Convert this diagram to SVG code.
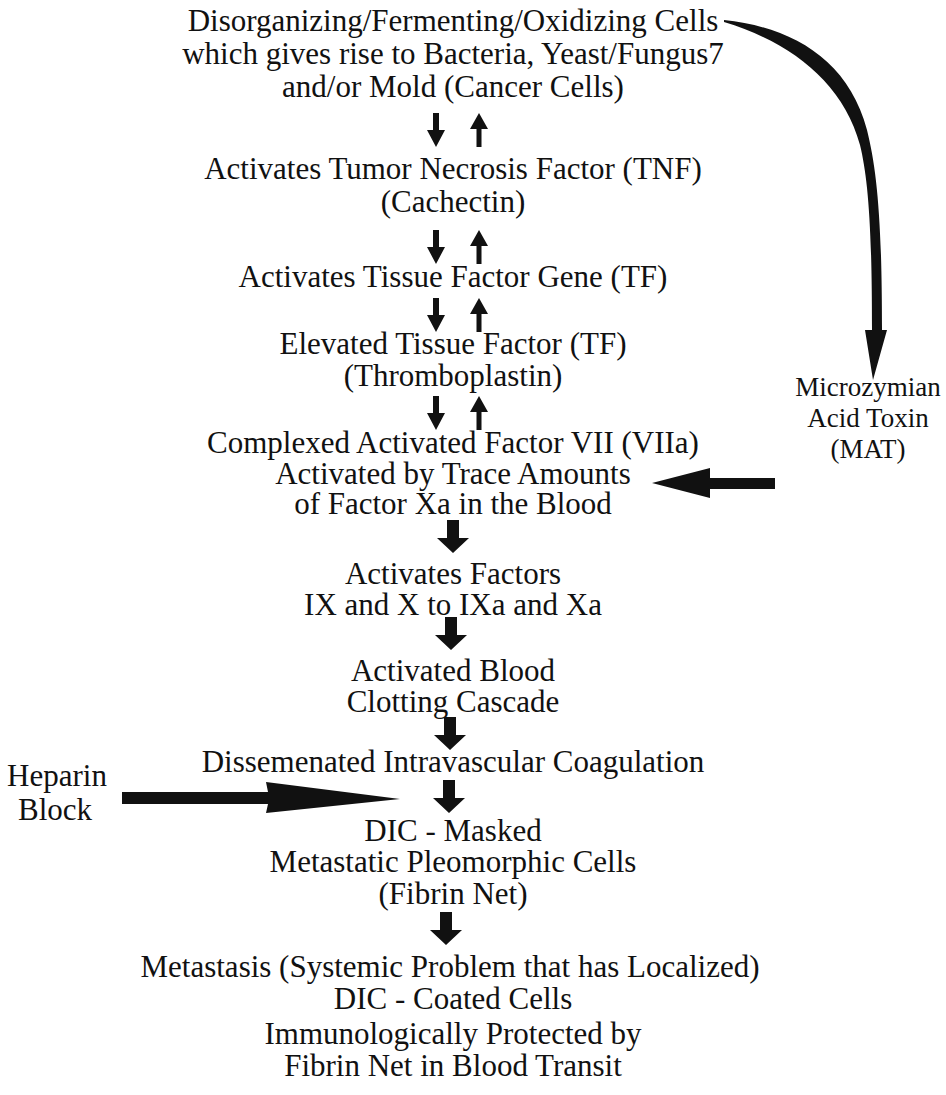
<svg xmlns="http://www.w3.org/2000/svg" xmlns:xlink="http://www.w3.org/1999/xlink" width="946" height="1095" viewBox="0 0 946 1095">
<style>
text{font-family:"Liberation Serif","Times New Roman",serif;font-size:31px;fill:#111;text-anchor:middle}
.side{font-size:27px}
.ink{fill:#111}
</style>
<defs>
<path id="dn" d="M-3,0 h6 v17 h6 l-9,17 l-9,-17 h6 z"/>
<path id="up" d="M0,0 l9,16 h-6.5 v18 h-5 v-18 h-6.5 z"/>
<path id="big" d="M-6,0 h12 v18 h10 l-16,15 l-16,-15 h10 z"/>
</defs>
<rect width="946" height="1095" fill="#fff"/>
<g id="n1"><text x="453" y="31">Disorganizing/Fermenting/Oxidizing Cells</text><text x="453" y="64">which gives rise to Bacteria, Yeast/Fungus7</text><text x="453" y="97">and/or Mold (Cancer Cells)</text></g>
<g id="n2"><text x="453" y="179">Activates Tumor Necrosis Factor (TNF)</text><text x="453" y="212">(Cachectin)</text></g>
<g id="n3"><text x="453" y="287">Activates Tissue Factor Gene (TF)</text></g>
<g id="n4"><text x="453" y="354">Elevated Tissue Factor (TF)</text><text x="453" y="386">(Thromboplastin)</text></g>
<g id="n5"><text x="453" y="453">Complexed Activated Factor VII (VIIa)</text><text x="453" y="484">Activated by Trace Amounts</text><text x="453" y="514">of Factor Xa in the Blood</text></g>
<g id="n6"><text x="453" y="584">Activates Factors</text><text x="453" y="615">IX and X to IXa and Xa</text></g>
<g id="n7"><text x="453" y="681">Activated Blood</text><text x="453" y="712">Clotting Cascade</text></g>
<g id="n8"><text x="453" y="772">Dissemenated Intravascular Coagulation</text></g>
<g id="n9"><text x="453" y="841">DIC - Masked</text><text x="453" y="872">Metastatic Pleomorphic Cells</text><text x="453" y="904">(Fibrin Net)</text></g>
<g id="n10"><text x="450" y="977">Metastasis (Systemic Problem that has Localized)</text><text x="453" y="1009">DIC - Coated Cells</text><text x="453" y="1044">Immunologically Protected by</text><text x="453" y="1076">Fibrin Net in Blood Transit</text></g>
<g id="mat"><text class="side" x="868" y="396">Microzymian</text><text class="side" x="868" y="427">Acid Toxin</text><text class="side" x="868" y="458">(MAT)</text></g>
<g id="heparin"><text x="57" y="786">Heparin</text><text x="55" y="820">Block</text></g>
<g id="connectors" class="ink">
<use xlink:href="#dn" x="436" y="113"/><use xlink:href="#up" x="479" y="113"/>
<use xlink:href="#dn" x="436" y="230"/><use xlink:href="#up" x="479" y="230"/>
<use xlink:href="#dn" x="436" y="298"/><use xlink:href="#up" x="479" y="298"/>
<use xlink:href="#dn" x="436" y="396"/><use xlink:href="#up" x="479" y="396"/>
<use xlink:href="#big" x="453" y="520"/>
<use xlink:href="#big" x="451" y="617"/>
<use xlink:href="#big" x="450" y="717"/>
<use xlink:href="#big" x="449" y="780"/>
<use xlink:href="#big" x="446" y="912"/>
<path d="M724,20 C790,27 848,58 867,130 C877,170 882,220 882,330 L887,330 L873,380 L865,330 L872,330 C872,225 868,178 860,145 C843,82 790,42 724,22 Z"/>
<path d="M775,478 H710 V468 L652,483 L710,498 V489 H775 Z"/>
<path d="M122,792 H268 L266,782 L400,799 L266,813 L268,804 H122 Z"/>
</g>
</svg>
